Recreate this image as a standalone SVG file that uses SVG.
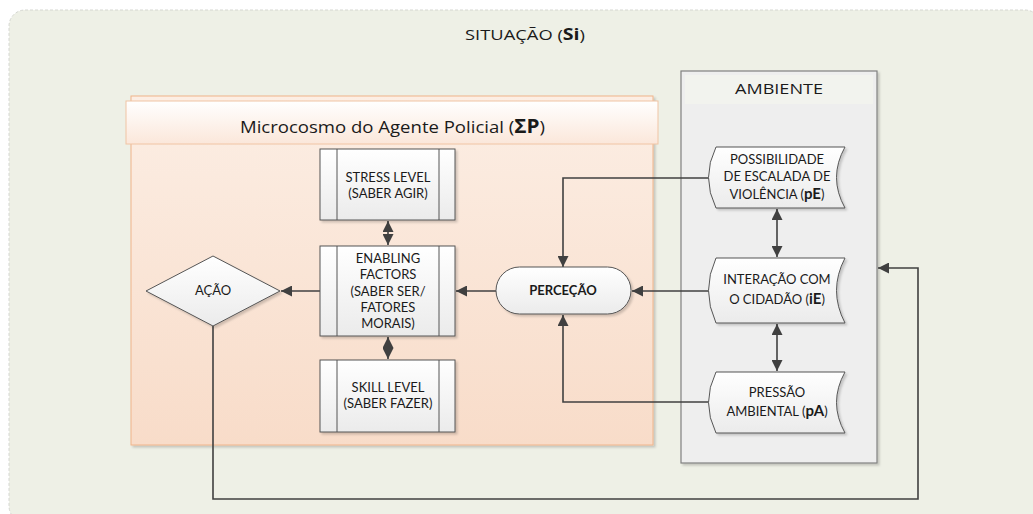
<svg xmlns="http://www.w3.org/2000/svg" width="1033" height="514" viewBox="0 0 1033 514">
  <defs>
    <linearGradient id="boxGrad" x1="0" y1="0" x2="0" y2="1">
      <stop offset="0" stop-color="#FFFFFF"/>
      <stop offset="1" stop-color="#EBEBEB"/>
    </linearGradient>
    <linearGradient id="microGrad" x1="0" y1="0" x2="0" y2="1">
      <stop offset="0" stop-color="#FCEEE4"/>
      <stop offset="1" stop-color="#F8DCC9"/>
    </linearGradient>
    <linearGradient id="headGrad" x1="0" y1="0" x2="0" y2="1">
      <stop offset="0" stop-color="#FFFFFF"/>
      <stop offset="1" stop-color="#FBE7DA"/>
    </linearGradient>
    <filter id="shadow" x="-10%" y="-10%" width="125%" height="130%">
      <feDropShadow dx="2" dy="2" stdDeviation="1.2" flood-color="#000" flood-opacity="0.18"/>
    </filter>
    <marker id="arrow" viewBox="0 0 10 10" refX="10" refY="5" markerWidth="11" markerHeight="11" markerUnits="userSpaceOnUse" orient="auto-start-reverse">
      <path d="M0,0 L10,5 L0,10 Z" fill="#404040"/>
    </marker>
  </defs>
  <style>
    text { font-family: Lato, "Liberation Sans", sans-serif; fill: #1a1a1a; text-anchor: middle; }
    .lbl { font-size: 13px; }
    .head { font-family: "Open Sans", "Liberation Sans", sans-serif; }
    .box { fill: url(#boxGrad); stroke: #555555; stroke-width: 1; filter: url(#shadow); }
    .inner { stroke: #555555; stroke-width: 1; fill: none; }
    .conn { fill: none; stroke: #404040; stroke-width: 1.6; }
    .b { font-weight: bold; }
  </style>

  <!-- outer situation frame -->
  <g id="situacao">
    <rect x="9" y="10" width="1032" height="512" rx="16" fill="#EEF0E6" stroke="#D4D6D0" stroke-width="1" stroke-dasharray="3,2"/>
    <text class="head" x="525" y="40" font-size="15" textLength="120" lengthAdjust="spacingAndGlyphs">SITUAÇÃO (<tspan class="b" font-size="16">Si</tspan>)</text>
  </g>

  <!-- agent microcosm container -->
  <g id="microcosmo">
    <rect x="131" y="96" width="522" height="349" fill="url(#microGrad)" stroke="#F0B48A" stroke-width="1" filter="url(#shadow)"/>
    <rect x="126" y="101" width="532" height="43" fill="url(#headGrad)" stroke="#F0C4A4" stroke-width="1"/>
    <text class="head" x="392.5" y="133" font-size="17" textLength="305" lengthAdjust="spacingAndGlyphs">Microcosmo do Agente Policial (<tspan class="b" font-size="19">ΣP</tspan>)</text>
  </g>

  <!-- environment container -->
  <g id="ambiente">
    <rect x="681" y="71" width="196" height="392" fill="#EEEEEE" stroke="#808080" stroke-width="1.2" filter="url(#shadow)"/>
    <rect x="685" y="75" width="188" height="29" fill="#F2F3EE"/>
    <text class="head" x="779" y="94" font-size="14" textLength="88" lengthAdjust="spacingAndGlyphs">AMBIENTE</text>
  </g>

  <!-- connectors -->
  <g id="connectors">
    <line class="conn" x1="388" y1="221" x2="388" y2="245" marker-start="url(#arrow)" marker-end="url(#arrow)"/>
    <line class="conn" x1="388" y1="337" x2="388" y2="359" marker-start="url(#arrow)" marker-end="url(#arrow)"/>
    <line class="conn" x1="320" y1="291" x2="281" y2="291" marker-end="url(#arrow)"/>
    <line class="conn" x1="496" y1="291" x2="456" y2="291" marker-end="url(#arrow)"/>
    <polyline class="conn" points="711,178 563,178 563,267" marker-end="url(#arrow)"/>
    <line class="conn" x1="711" y1="291" x2="632" y2="291" marker-end="url(#arrow)"/>
    <polyline class="conn" points="711,402 563,402 563,315" marker-end="url(#arrow)"/>
    <line class="conn" x1="777" y1="209" x2="777" y2="257" marker-start="url(#arrow)" marker-end="url(#arrow)"/>
    <line class="conn" x1="777" y1="324" x2="777" y2="371" marker-start="url(#arrow)" marker-end="url(#arrow)"/>
    <polyline class="conn" points="213,326 213,499 918,499 918,268 878,268" marker-end="url(#arrow)"/>
  </g>

  <!-- agent internal factors -->
  <g id="stress">
    <rect class="box" x="320" y="149" width="135" height="71"/>
    <line class="inner" x1="337" y1="149" x2="337" y2="220"/>
    <line class="inner" x1="439" y1="149" x2="439" y2="220"/>
    <text class="lbl" x="388" y="182">STRESS LEVEL</text>
    <text class="lbl" x="388" y="198">(SABER AGIR)</text>
  </g>
  <g id="enabling">
    <rect class="box" x="320" y="246" width="135" height="90"/>
    <line class="inner" x1="337" y1="246" x2="337" y2="336"/>
    <line class="inner" x1="439" y1="246" x2="439" y2="336"/>
    <text class="lbl" x="388" y="263">ENABLING</text>
    <text class="lbl" x="388" y="279">FACTORS</text>
    <text class="lbl" x="388" y="296">(SABER SER/</text>
    <text class="lbl" x="388" y="312">FATORES</text>
    <text class="lbl" x="388" y="328">MORAIS)</text>
  </g>
  <g id="skill">
    <rect class="box" x="320" y="360" width="135" height="72"/>
    <line class="inner" x1="337" y1="360" x2="337" y2="432"/>
    <line class="inner" x1="439" y1="360" x2="439" y2="432"/>
    <text class="lbl" x="388" y="392">SKILL LEVEL</text>
    <text class="lbl" x="388" y="408">(SABER FAZER)</text>
  </g>
  <g id="acao">
    <path class="box" d="M146,291 L213,256 L280,291 L213,326 Z"/>
    <text class="lbl" x="213" y="295">AÇÃO</text>
  </g>
  <g id="percecao">
    <rect class="box" x="496" y="267" width="135" height="47" rx="23.5"/>
    <text class="lbl b" x="563" y="295">PERCEÇÃO</text>
  </g>

  <!-- environment factors -->
  <g id="pE">
    <path class="box" d="M716,147 L845,147 Q828,177.5 845,208 L716,208 Q701,177.5 716,147 Z"/>
    <text class="lbl" x="777" y="164">POSSIBILIDADE</text>
    <text class="lbl" x="777" y="181">DE ESCALADA DE</text>
    <text class="lbl" x="777" y="199">VIOLÊNCIA (<tspan class="b" font-size="15">pE</tspan>)</text>
  </g>
  <g id="iE">
    <path class="box" d="M716,258 L845,258 Q828,290.5 845,323 L716,323 Q701,290.5 716,258 Z"/>
    <text class="lbl" x="777" y="284">INTERAÇÃO COM</text>
    <text class="lbl" x="777" y="304">O CIDADÃO (<tspan class="b" font-size="15">iE</tspan>)</text>
  </g>
  <g id="pA">
    <path class="box" d="M716,372 L845,372 Q828,402.5 845,433 L716,433 Q701,402.5 716,372 Z"/>
    <text class="lbl" x="777" y="397">PRESSÃO</text>
    <text class="lbl" x="777" y="416">AMBIENTAL (<tspan class="b" font-size="15">pA</tspan>)</text>
  </g>
</svg>
